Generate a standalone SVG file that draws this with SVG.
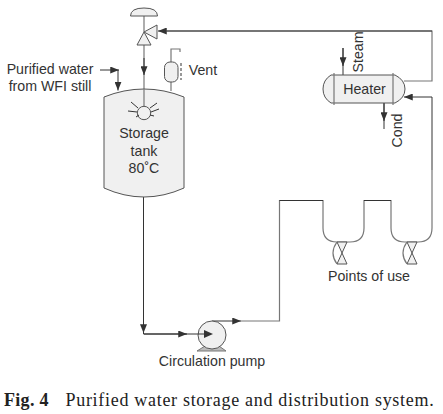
<svg xmlns="http://www.w3.org/2000/svg" width="443" height="414" viewBox="0 0 443 414">
<defs>
<marker id="arr" viewBox="0 0 10 8" refX="10" refY="4" markerWidth="9" markerHeight="7" markerUnits="userSpaceOnUse" orient="auto"><path d="M0 0L10 4L0 8Z" fill="#333"/></marker>
</defs>
<style>
.l{fill:none;stroke:#333;stroke-width:1}
.g{fill:none;stroke:#777;stroke-width:1.200}
.s{fill:#f0f0f0;stroke:#555;stroke-width:1}
.a{marker-end:url(#arr)}
text{font-family:"Liberation Sans",Arial,sans-serif;font-size:14.200px;fill:#333;text-anchor:middle}
.c{font-family:"Liberation Serif","Times New Roman",serif;font-size:18px;fill:#222;text-anchor:start;letter-spacing:.7px}
</style>
<rect width="443" height="414" fill="#fff"/>
<g id="connectors">
<path class="g" d="M144 16V32"/>
<path class="g" d="M144 45V107"/>
<path class="l a" d="M144 58V75"/>
<path class="g" d="M404 81H432V31H167"/>
<path class="l a" d="M432 31H158"/>
<path class="l a" d="M432 170V97H404"/>
<path class="l a" d="M100 70H119"/>
<path class="l a" d="M118 70V90.500"/>
<path class="l" d="M343 48V75"/>
<path class="l a" d="M343 48V66"/>
<path class="l" d="M384 103V129"/>
<path class="l a" d="M384 103V121"/>
<path class="l" d="M143.500 197V334H198"/>
<path class="l a" d="M143.500 300V333"/>
<path class="l a" d="M144 334H187"/>
<path class="l a" d="M212 321H241"/>
<path class="g" d="M241 321H279.500V200.500H323V228Q323 242 337 242H350Q364 242 364 228V200.500H391V228Q391 242 405 242H418Q432 242 432 228V170"/>
<path class="l" d="M279.500 200.500H323M364 200.500H391"/>
</g>
<g id="valve">
<path class="s" d="M130.500 16Q130.500 8 144 8Q157.500 8 157.500 16Z"/>
<path class="s" d="M144 32L157 25V39Z"/>
<path class="s" d="M144 32L137 45H151Z"/>
</g>
<g id="vent-filter">
<path class="g" d="M171 91V82"/>
<path class="g" d="M171 62V49H180V52"/>
<rect class="s" x="164.500" y="62" width="13.500" height="20" rx="5.500"/>
<path d="M181 63V80" stroke="#333" stroke-dasharray="3 2" fill="none"/>
<text x="203" y="75">Vent</text>
</g>
<g id="storage-tank">
<path class="s" d="M104 97Q144 81 184 97V188Q144 206 104 188Z"/>
<path class="g" d="M144 89V107"/>
<circle class="s" cx="144" cy="113" r="6.700"/>
<path class="l" stroke-width=".8" d="M131 102L138 108M128 111L137 112M136 117L139 115M157 103L150 108M159 109L151 112M154 116L150 115"/>
<text x="144" y="138">Storage</text>
<text x="144" y="156">tank</text>
<text x="144" y="173">80˚C</text>
</g>
<g id="purified-water">
<text x="50" y="74">Purified water</text>
<text x="50" y="91">from WFI still</text>
</g>
<g id="heater">
<path class="s" d="M331 75H395Q405 80 405 89Q405 98 395 103H331Q323 98 323 89Q323 80 331 75Z"/>
<path class="g" d="M334 73V105M393 73V105"/>
<text x="364.500" y="94">Heater</text>
<text transform="translate(363 52) rotate(-90)">Steam</text>
<text transform="translate(402 130.500) rotate(-90)">Cond</text>
</g>
<g id="points-of-use">
<path class="s" d="M337 242H347L337 264H347Z"/>
<path class="g" d="M337 242Q329 253 337 264"/>
<path class="s" d="M407 242H417L407 264H417Z"/>
<path class="g" d="M407 242Q399 253 407 264"/>
<text x="369" y="281">Points of use</text>
</g>
<g id="circulation-pump">
<path d="M197 351L205 346H219L226 351Z" fill="#bbb" stroke="#777"/>
<circle class="s" cx="212" cy="335" r="14"/>
<path d="M198 334H205" stroke="#333"/>
<path d="M204 330L213 334L204 338Z" fill="#333"/>
<text x="212" y="366">Circulation pump</text>
</g>
<g id="caption">
<text class="c" x="4" y="405.500" style="font-weight:bold;letter-spacing:.3px">Fig. 4</text>
<text class="c" x="65.500" y="405.500">Purified water storage and distribution system.</text>
</g>
</svg>
